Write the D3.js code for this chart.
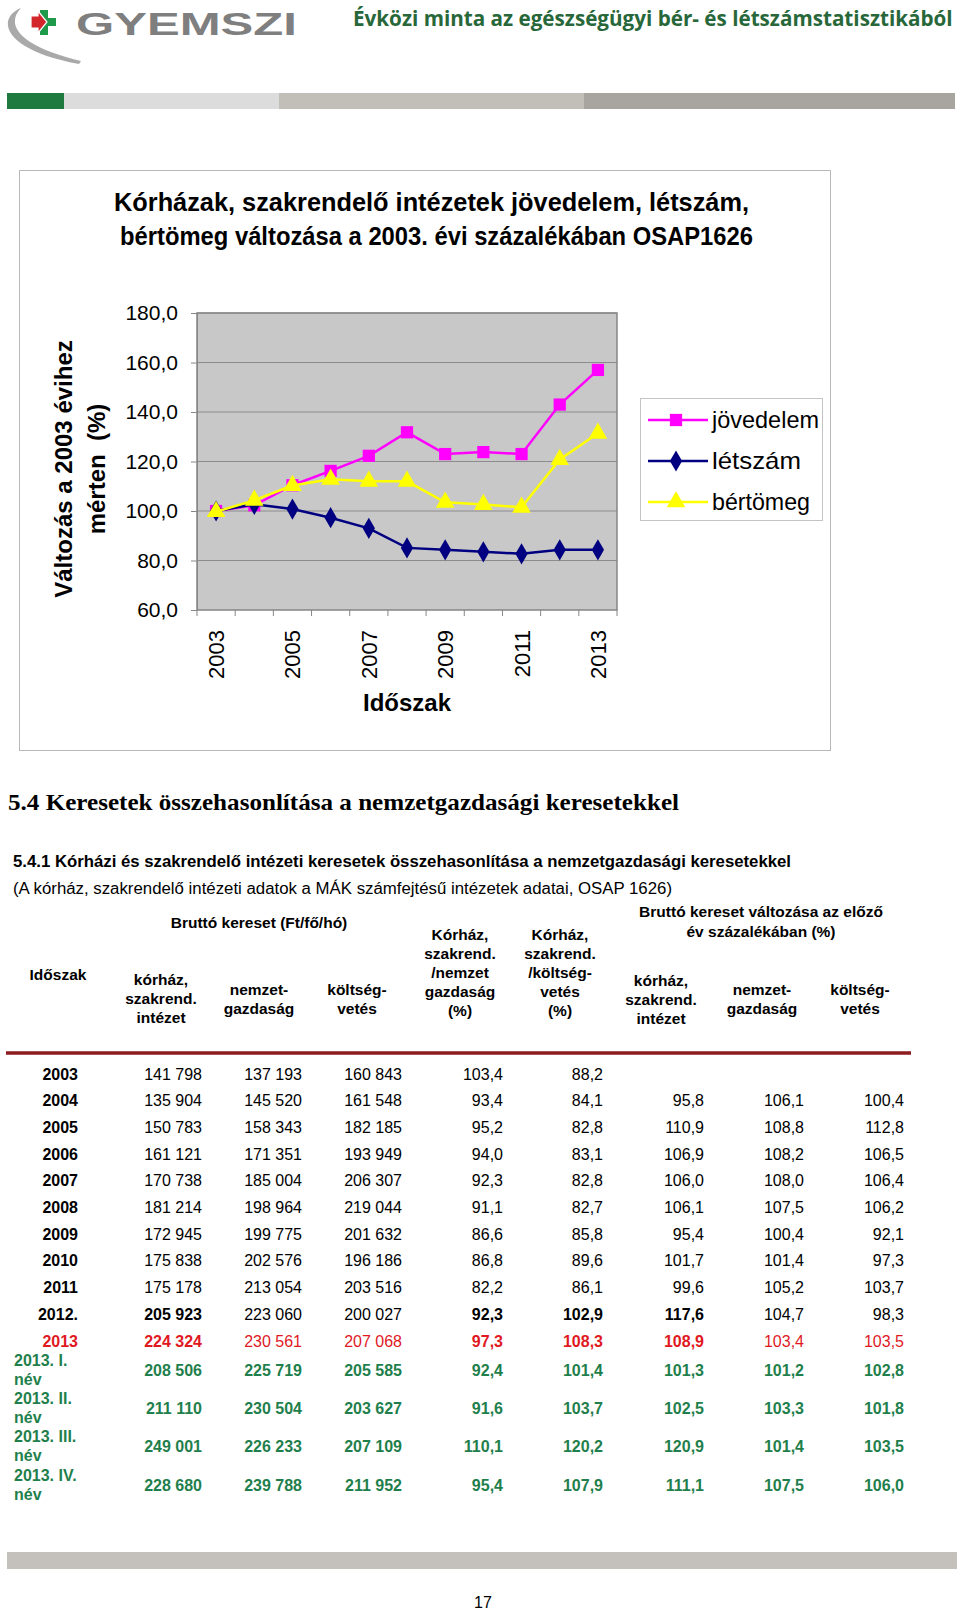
<!DOCTYPE html>
<html><head><meta charset="utf-8">
<script src="https://cdn.jsdelivr.net/npm/d3@7/dist/d3.min.js"></script>
<style>
html,body{margin:0;padding:0;background:#fff;}
svg{display:block;}
text{font-family:"Liberation Sans",Arial,sans-serif;}
</style></head>
<body>
<script>
// ---------- chart data ----------
const years = ["2003","2004","2005","2006","2007","2008","2009","2010","2011","2012","2013"];
const yearLabels = ["2003","2005","2007","2009","2011","2013"];
const jovedelem = [100.0,102.3,110.4,116.2,122.3,131.8,123.0,123.8,123.0,143.0,157.0];
const letszam   = [100.0,102.7,100.8,97.3,93.0,85.1,84.3,83.5,82.7,84.3,84.3];
const bertomeg  = [99.7,104.3,110.3,112.8,112.0,112.0,103.5,102.6,101.5,120.8,131.4];
const seriesNames = ["jövedelem","létszám","bértömeg"];
const yTicks = [60,80,100,120,140,160,180];

// ---------- table data ----------
const periods = ["2003","2004","2005","2006","2007","2008","2009","2010","2011","2012.","2013",
  "2013. I.|név","2013. II.|név","2013. III.|név","2013. IV.|név"];
const korhaz  = [141798,135904,150783,161121,170738,181214,172945,175838,175178,205923,224324,208506,211110,249001,228680];
const nemzet  = [137193,145520,158343,171351,185004,198964,199775,202576,213054,223060,230561,225719,230504,226233,239788];
const koltseg = [160843,161548,182185,193949,206307,219044,201632,196186,203516,200027,207068,205585,203627,207109,211952];
const aranyNemzet  = [103.4,93.4,95.2,94.0,92.3,91.1,86.6,86.8,82.2,92.3,97.3,92.4,91.6,110.1,95.4];
const aranyKoltseg = [88.2,84.1,82.8,83.1,82.8,82.7,85.8,89.6,86.1,102.9,108.3,101.4,103.7,120.2,107.9];
const valtKorhaz  = [null,95.8,110.9,106.9,106.0,106.1,95.4,101.7,99.6,117.6,108.9,101.3,102.5,120.9,111.1];
const valtNemzet  = [null,106.1,108.8,108.2,108.0,107.5,100.4,101.4,105.2,104.7,103.4,101.2,103.3,101.4,107.5];
const valtKoltseg = [null,100.4,112.8,106.5,106.4,106.2,92.1,97.3,103.7,98.3,103.5,102.8,101.8,103.5,106.0];

// ---------- setup ----------
const hu = d3.formatLocale({decimal:",",thousands:"\u00a0",grouping:[3],currency:["",""]});
const fInt = hu.format(",d"), f1 = hu.format(".1f");

const svg = d3.select("body").append("svg").attr("width",960).attr("height",1610);

// fit a text to a given width by horizontal scaling (keeps bbox honest)
function fitText(sel, x0, y0, w){
  const nat = sel.node().getComputedTextLength();
  sel.attr("x",0).attr("y",0).attr("transform",`translate(${x0},${y0}) scale(${w/nat},1)`);
}

// ---------- page header ----------
const logo = svg.append("g");
logo.append("path")
  .attr("d","M21,8 C-4,18 2,50 79,64 L81,61 C22,47 4,26 21,8 Z")
  .attr("fill","#a9a9a9");
logo.append("path")
  .attr("d","M40,10 h8 v8 h8 v8 h-8 v9 h-8 v-9 h-8 v-8 h8 Z")
  .attr("fill","#1f9a4b");
logo.append("path")
  .attr("d","M31,16 h7 v-5 l9,11 l-9,11 v-5 h-7 Z")
  .attr("fill","#d3262c").attr("stroke","#fff").attr("stroke-width",1.2);
const lt = logo.append("text")
  .attr("font-family","DejaVu Sans").attr("font-size",32).attr("font-weight","bold")
  .attr("fill","#7f7f7f").text("GYEMSZI");
fitText(lt, 76, 35, 221);

const ht = svg.append("text")
  .style("font-family","'Open Sans'").attr("font-weight","bold").attr("font-size",22)
  .attr("fill","#27673a").text("Évközi minta az egészségügyi bér- és létszámstatisztikából");
fitText(ht, 353, 26, 600);

const bars = [[7,64,"#1f7a3f"],[64,279,"#dcdcdc"],[279,584,"#c2beb8"],[584,955,"#a8a5a0"]];
svg.selectAll("rect.hb").data(bars).join("rect").attr("class","hb")
  .attr("x",d=>d[0]).attr("y",93).attr("width",d=>d[1]-d[0]).attr("height",16).attr("fill",d=>d[2]);

// ---------- chart ----------
svg.append("rect").attr("x",19.5).attr("y",170.5).attr("width",811).attr("height",580)
  .attr("fill","#fff").attr("stroke","#b8b8b8").attr("stroke-width",1);

const title = ["Kórházak, szakrendelő intézetek jövedelem, létszám,","bértömeg változása a 2003. évi százalékában OSAP1626"];
svg.selectAll("text.ct").data(title).join("text").attr("class","ct")
  .attr("x",(d,i)=>i?120:114).attr("y",(d,i)=>211+i*34)
  .attr("font-size",25).attr("font-weight","bold")
  .attr("textLength",(d,i)=>i?633:635).attr("lengthAdjust","spacingAndGlyphs")
  .text(d=>d);

const x = d3.scaleBand().domain(years).range([197,617]).paddingInner(0).paddingOuter(0);
const y = d3.scaleLinear().domain([60,180]).range([610,313]);
const cx = d => x(d)+x.bandwidth()/2;

svg.append("rect").attr("x",197).attr("y",313).attr("width",420).attr("height",297).attr("fill","#c8c8c8");
svg.selectAll("line.grid").data(yTicks.slice(1)).join("line").attr("class","grid")
  .attr("x1",197).attr("x2",617).attr("y1",d=>y(d)).attr("y2",d=>y(d))
  .attr("stroke","#8c8c8c").attr("stroke-width",1);
svg.append("rect").attr("x",197).attr("y",313).attr("width",420).attr("height",297)
  .attr("fill","none").attr("stroke","#868686").attr("stroke-width",1.5);

const yAxis = svg.append("g").attr("transform","translate(197,0)")
  .call(d3.axisLeft(y).tickValues(yTicks).tickFormat(f1).tickSize(6).tickPadding(13));
yAxis.select(".domain").attr("stroke","#868686");
yAxis.selectAll(".tick line").attr("stroke","#868686");
yAxis.selectAll("text").attr("font-size",21).attr("font-family","Liberation Sans").attr("fill","#000");

const xAxis = svg.append("g").attr("transform","translate(0,610)")
  .call(d3.axisBottom(x).tickValues(yearLabels).tickSize(0).tickPadding(0));
xAxis.select(".domain").remove();
xAxis.selectAll("text").attr("font-size",22).attr("font-family","Liberation Sans").attr("fill","#000")
  .attr("text-anchor","end").attr("dy",0)
  .attr("transform","translate(8,20) rotate(-90)")
  .attr("x",0).attr("y",0);
// category boundary tick marks
svg.selectAll("line.xt").data(years.concat(["end"])).join("line").attr("class","xt")
  .attr("x1",(d,i)=>x.range()[0]+i*x.step()).attr("x2",(d,i)=>x.range()[0]+i*x.step())
  .attr("y1",610).attr("y2",616).attr("stroke","#868686");

svg.append("text").attr("x",407).attr("y",711).attr("text-anchor","middle")
  .attr("font-size",24).attr("font-weight","bold").text("Időszak");

const yt = svg.append("g").attr("transform","translate(0,469) rotate(-90)");
yt.append("text").attr("x",0).attr("y",72).attr("text-anchor","middle")
  .attr("font-size",24).attr("font-weight","bold").text("Változás a 2003 évihez");
yt.append("text").attr("x",0).attr("y",105).attr("text-anchor","middle")
  .attr("font-size",24).attr("font-weight","bold").attr("xml:space","preserve").text("mérten  (%)");

const colors = ["#ff00ff","#000080","#ffff00"];
const sym = [d3.symbolSquare, d3.symbolDiamond, d3.symbolTriangle];
const symSize = [150, 130, 150];
const series = [jovedelem, letszam, bertomeg];
const line = d3.line().x((d,i)=>cx(years[i])).y(d=>y(d));
series.forEach((s,k)=>{
  svg.append("path").datum(s).attr("d",line).attr("fill","none")
    .attr("stroke",colors[k]).attr("stroke-width",2.5);
  svg.selectAll("path.m"+k).data(s).join("path").attr("class","m"+k)
    .attr("transform",(d,i)=>`translate(${cx(years[i])},${y(d)})`)
    .attr("d",d3.symbol(sym[k],symSize[k])).attr("fill",colors[k]);
});

// legend
const lg = svg.append("g");
lg.append("rect").attr("x",640.5).attr("y",398.5).attr("width",182).attr("height",122)
  .attr("fill","#fff").attr("stroke","#c4c4c4");
seriesNames.forEach((n,k)=>{
  const ly = 420 + k*41;
  lg.append("line").attr("x1",648).attr("x2",708).attr("y1",ly).attr("y2",ly)
    .attr("stroke",colors[k]).attr("stroke-width",2.5);
  lg.append("path").attr("transform",`translate(676,${ly})`)
    .attr("d",d3.symbol(sym[k],symSize[k])).attr("fill",colors[k]);
  lg.append("text").attr("x",712).attr("y",ly+8).attr("font-size",24)
    .attr("textLength",[107,89,98][k]).attr("lengthAdjust","spacingAndGlyphs").text(n);
});

// ---------- section texts ----------
svg.append("text").attr("x",8).attr("y",810)
  .style("font-family","'Liberation Serif',serif").attr("font-weight","bold").attr("font-size",24)
  .attr("textLength",671).attr("lengthAdjust","spacingAndGlyphs")
  .text("5.4 Keresetek összehasonlítása a nemzetgazdasági keresetekkel");
svg.append("text").attr("x",13).attr("y",867).attr("font-weight","bold").attr("font-size",16)
  .attr("textLength",778).attr("lengthAdjust","spacingAndGlyphs")
  .text("5.4.1 Kórházi és szakrendelő intézeti keresetek összehasonlítása a nemzetgazdasági keresetekkel");
svg.append("text").attr("x",13).attr("y",894).attr("font-size",16)
  .attr("textLength",659).attr("lengthAdjust","spacingAndGlyphs")
  .text("(A kórház, szakrendelő intézeti adatok a MÁK számfejtésű intézetek adatai, OSAP 1626)");

// ---------- table header ----------
const hdr = [
  {x:259,y:928,lines:["Bruttó kereset (Ft/fő/hó)"]},
  {x:761,y:917,lines:["Bruttó kereset változása az előző","év százalékában (%)"],lh:20},
  {x:58,y:980,lines:["Időszak"]},
  {x:161,y:985,lines:["kórház,","szakrend.","intézet"]},
  {x:259,y:995,lines:["nemzet-","gazdaság"]},
  {x:357,y:995,lines:["költség-","vetés"]},
  {x:460,y:940,lines:["Kórház,","szakrend.","/nemzet","gazdaság","(%)"]},
  {x:560,y:940,lines:["Kórház,","szakrend.","/költség-","vetés","(%)"]},
  {x:661,y:986,lines:["kórház,","szakrend.","intézet"]},
  {x:762,y:995,lines:["nemzet-","gazdaság"]},
  {x:860,y:995,lines:["költség-","vetés"]}
];
hdr.forEach(h=>{
  const t = svg.append("text").attr("text-anchor","middle").attr("font-weight","bold").attr("font-size",15.5);
  h.lines.forEach((l,i)=>t.append("tspan").attr("x",h.x).attr("y",h.y+i*(h.lh||19)).text(l));
});
svg.append("line").attr("x1",6).attr("x2",911).attr("y1",1053).attr("y2",1053)
  .attr("stroke","#8e1b1f").attr("stroke-width",3.5);

// ---------- table body ----------
const colX = [202,302,402,503,603,704,804,904];
const cols = [korhaz,nemzet,koltseg,aranyNemzet,aranyKoltseg,valtKorhaz,valtNemzet,valtKoltseg];
const fmts = [fInt,fInt,fInt,f1,f1,f1,f1,f1];
const rowY = i => i<=10 ? 1074 + i*26.7 : 1370 + (i-11)*38.4;
const boldCols = [true,false,false,true,true,true,false,false];
periods.forEach((p,i)=>{
  const yy = rowY(i)+5.5;
  const kind = i<9 ? "n" : i===9 ? "b" : i===10 ? "r" : "q";
  const col = kind==="r" ? "#e0191f" : kind==="q" ? "#1f7f4c" : "#000";
  if(kind==="q"){
    const parts = p.split("|");
    const t = svg.append("text").attr("fill",col).attr("font-size",16).attr("font-weight","bold");
    parts.forEach((s,j)=>t.append("tspan").attr("x",14).attr("y",yy-10+j*19).text(s));
  } else {
    svg.append("text").attr("x",78).attr("y",yy).attr("text-anchor","end")
      .attr("font-weight","bold").attr("font-size",16).attr("fill",col).text(p);
  }
  cols.forEach((c,j)=>{
    if(c[i]==null) return;
    const bold = kind==="n" ? false : kind==="q" ? true : boldCols[j];
    svg.append("text").attr("x",colX[j]).attr("y",yy).attr("text-anchor","end")
      .attr("font-size",16).attr("font-weight",bold?"bold":"normal").attr("fill",col)
      .text(fmts[j](c[i]));
  });
});

// ---------- footer ----------
svg.append("rect").attr("x",7).attr("y",1552).attr("width",950).attr("height",17).attr("fill","#c4c0bb");
svg.append("text").attr("x",483).attr("y",1608).attr("text-anchor","middle").attr("font-size",16).text("17");
</script>
</body></html>
